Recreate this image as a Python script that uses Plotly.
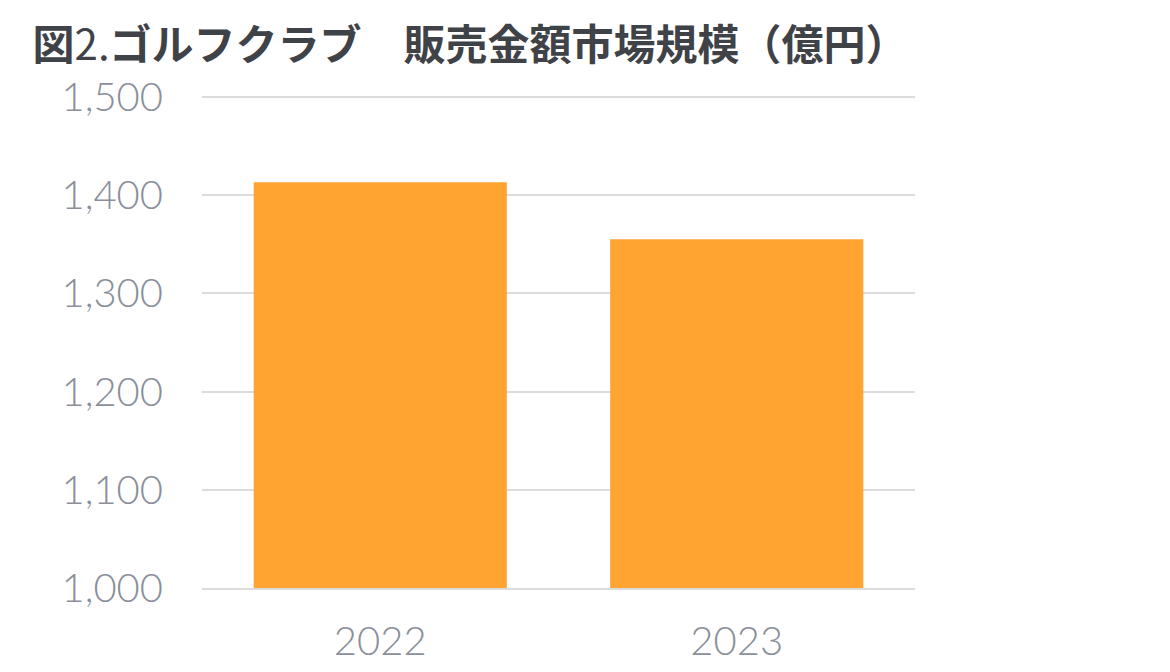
import plotly.graph_objects as go

# 年別の販売金額（億円）
years = ["2022", "2023"]
sales = [1413, 1355]
y_ticks = [1000, 1100, 1200, 1300, 1400, 1500]

fig = go.Figure(
    go.Bar(x=years, y=sales, marker=dict(color="#FFA331", line=dict(width=0)))
)

fig.update_layout(
    width=1170,
    height=672,
    paper_bgcolor="white",
    plot_bgcolor="white",
    bargap=0.29,
    showlegend=False,
    margin=dict(l=194, r=263, t=84, b=92),
    title=dict(
        text="<b>図</b>2.<b>ゴルフクラブ　販売金額市場規模（億円）</b>",
        x=0.021,
        xanchor="left",
        y=0.945,
        yanchor="middle",
        font=dict(family="Noto Sans CJK JP", size=42, color="#3f4247"),
    ),
)

fig.update_yaxes(
    range=[1000, 1505],
    tickvals=y_ticks,
    tickformat=",",
    automargin=False,
    showgrid=True,
    gridcolor="#dcdcdc",
    gridwidth=2,
    zeroline=False,
    showline=False,
    ticks="",
    ticklabelstandoff=38,
    tickfont=dict(family="Lato", size=40, color="#8a8f99", weight=300),
)
fig.update_xaxes(
    automargin=False,
    showline=True,
    linecolor="#dcdcdc",
    linewidth=2,
    ticks="",
    ticklabelstandoff=17,
    tickfont=dict(family="Lato", size=40, color="#8a8f99", weight=300),
)

fig.write_html("out.html")
